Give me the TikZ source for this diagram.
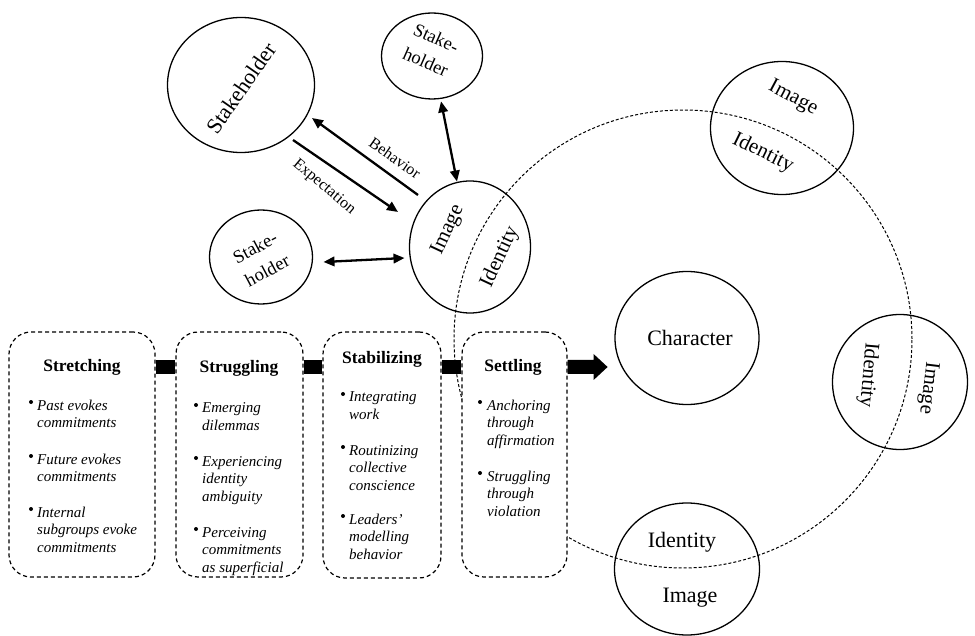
\documentclass[tikz,border=0pt]{standalone}
\usepackage{fontspec}
\setmainfont{Liberation Serif}
\usetikzlibrary{shapes.geometric,arrows.meta,calc}

\tikzset{
  ring/.style={draw, ellipse, line width=1.3pt, inner sep=0pt, outer sep=0pt},
  bigtxt/.style={font=\fontsize{22}{24}\selectfont, inner sep=0pt},
  midtxt/.style={font=\fontsize{21}{24}\selectfont, inner sep=0pt},
  shtxt/.style={font=\fontsize{18.5}{26}\selectfont, align=center, inner sep=0pt},
  lbl/.style={font=\fontsize{16}{18}\selectfont, inner sep=0pt},
  link/.style={line width=2.3pt, {Triangle[length=11pt,width=9.5pt]}-{Triangle[length=11pt,width=9.5pt]}},
  flow/.style={line width=2.3pt, -{Triangle[length=11pt,width=9.5pt]}},
  stage/.style={draw, dash pattern=on 4pt off 3pt, line width=1.2pt,
    rounded corners=22pt, fill=white, inner sep=0pt},
  ttl/.style={font=\bfseries\fontsize{17.5}{20}\selectfont, anchor=base, inner sep=0pt},
  itm/.style={font=\itshape\fontsize{15}{17.5}\selectfont, anchor=base west, inner sep=0pt},
  dot/.style={circle, fill, inner sep=0pt, minimum size=4pt},
  bar/.style={line width=14pt},
  orbit/.style={dash pattern=on 3pt off 2pt, line width=1pt}
}

% one bullet point of a stage: name, bullet x, first baseline, text x, lines
\newcommand\stageitem[5]{%
  \node[dot] (#1-dot) at (#2,#3-8) {};
  \foreach \myline [count=\k from 0] in {#5}
    \node[itm] (#1-\k) at (#4,#3+17.5*\k) {\myline};
}

\begin{document}
\begin{tikzpicture}[x=1pt, y=-1pt]
\useasboundingbox (0,0) rectangle (975,636);

% ---------- stakeholders around the image ----------
\node[ring, minimum width=147pt, minimum height=135pt] (sh1) at (241,85) {};
\node[ring, minimum width=101pt, minimum height=86pt] (sh2) at (432,56) {};
\node[ring, minimum width=103pt, minimum height=94pt] (sh3) at (261,257) {};
\node[ring, minimum width=121pt, minimum height=132pt] (img) at (470,247) {};

\node[bigtxt, rotate=55] (sh1t) at (241,88) {Stakeholder};
\node[shtxt, rotate=-24] (sh2t) at (431,50) {Stake-\\holder};
\node[shtxt, rotate=28] (sh3t) at (261,259) {Stake-\\holder};
\node[midtxt, rotate=65] (imgA) at (448,230) {Image};
\node[midtxt, rotate=65] (imgB) at (500,257) {Identity};

\draw[flow] ([shift={(-52,-52)}]img.center) -- ([shift={(71,33)}]sh1.center);
\draw[flow] ([shift={(52,55)}]sh1.center) -- ([shift={(-72,-35)}]img.center);
\node[lbl, rotate=-35] (beh) at (395,158) {Behavior};
\node[lbl, rotate=-40] (exp) at (324,187) {Expectation};
\draw[link, shorten <=3pt, shorten >=1pt] (sh2) -- (img);
\draw[link] ([shift={(11,5)}]sh3.east) -- ([shift={(-5,11)}]img.west);

% ---------- character and its surrounding images ----------
\coordinate (hub) at (683,339);
\draw[orbit] (hub) circle [radius=229pt];

\node[ring, minimum width=144pt, minimum height=133pt] (char) at (687,338) {};
\node[bigtxt] (chart) at (690,338) {Character};

\node[ring, minimum width=143pt, minimum height=133pt] (tr) at (782,128) {};
\node[midtxt, rotate=-28] (trA) at (793,98) {Image};
\node[midtxt, rotate=-26] (trB) at (763,153) {Identity};

\node[ring, minimum width=135pt, minimum height=135pt] (rt) at (900,382) {};
\node[midtxt, rotate=-95] (rtB) at (868,375) {Identity};
\node[midtxt, rotate=-97] (rtA) at (928,388) {Image};

\node[ring, minimum width=145pt, minimum height=132pt] (bt) at (687,569) {};
\node[bigtxt] (btB) at (682,542) {Identity};
\node[bigtxt] (btA) at (690,598) {Image};

% ---------- the four stages ----------
\node[stage, minimum width=146pt, minimum height=245pt] (b1) at (82,454.5) {};
\node[stage, minimum width=127pt, minimum height=245pt] (b2) at (239.5,454.5) {};
\node[stage, minimum width=118pt, minimum height=246pt] (b3) at (382,455) {};
\node[stage, minimum width=105pt, minimum height=245pt] (b4) at (514.5,454.5) {};

\coordinate (row) at (0,367);
\draw[bar] (b1.east |- row) -- (b2.west |- row);
\draw[bar] (b2.east |- row) -- (b3.west |- row);
\draw[bar] (b3.east |- row) -- (b4.west |- row);
\fill (b4.east |- row) ++(0,-7) -- ++(26,0) -- ++(0,-6) -- ++(14,13)
  -- ++(-14,13) -- ++(0,-6) -- ++(-26,0) -- cycle;

\node[ttl] (t1) at (82,371) {Stretching};
\node[ttl] (t2) at (239,373) {Struggling};
\node[ttl] (t3) at (382,363) {Stabilizing};
\node[ttl] (t4) at (513,372) {Settling};

\stageitem{s1a}{31}{410}{37}{Past evokes, commitments}
\stageitem{s1b}{31}{464}{37}{Future evokes, commitments}
\stageitem{s1c}{31}{517}{37}{Internal, subgroups evoke, commitments}

\stageitem{s2a}{196}{413}{202}{Emerging, dilemmas}
\stageitem{s2b}{196}{466}{202}{Experiencing, identity, ambiguity}
\stageitem{s2c}{196}{537}{202}{Perceiving, commitments, as superficial}

\stageitem{s3a}{343}{402}{349}{Integrating, work}
\stageitem{s3b}{343}{455}{349}{Routinizing, collective, conscience}
\stageitem{s3c}{343}{524}{349}{Leaders', modelling, behavior}

\stageitem{s4a}{480}{410}{487}{Anchoring, through, affirmation}
\stageitem{s4b}{480}{481}{487}{Struggling, through, violation}
\end{tikzpicture}
\end{document}
